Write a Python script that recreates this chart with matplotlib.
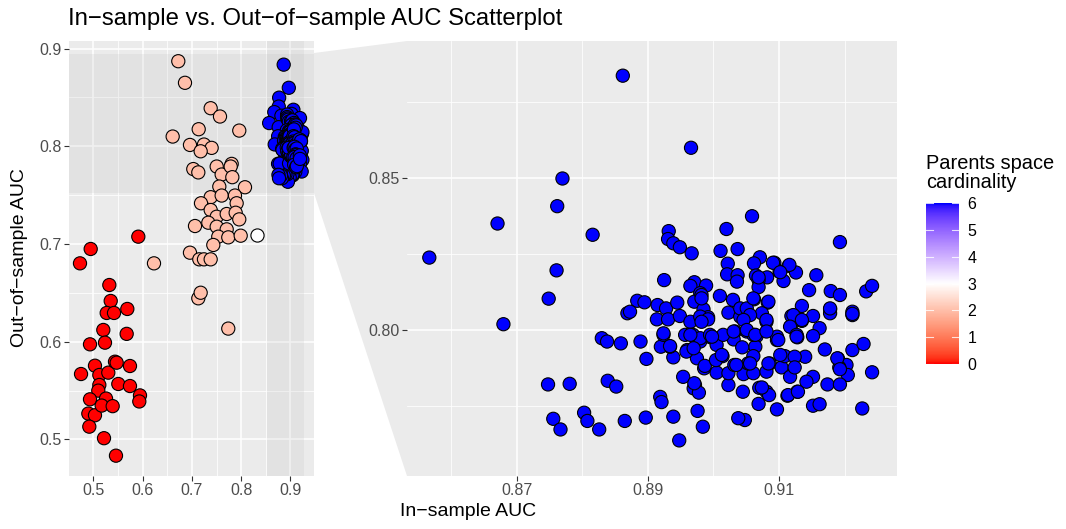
import numpy as np
import matplotlib
matplotlib.use("Agg")
import matplotlib.pyplot as plt
from matplotlib.colors import LinearSegmentedColormap
from matplotlib.patches import Polygon, Rectangle

plt.rcParams['font.family'] = ['Liberation Sans', 'DejaVu Sans']

# ---- data: in-sample AUC (x) vs out-of-sample AUC (y), by parents space cardinality ----
# cardinality 0
in_c0 = [0.5913, 0.4947, 0.4730, 0.5325, 0.5353, 0.5272, 0.5420, 0.5690, 0.5203, 0.5677,
         0.4933, 0.5237, 0.4751, 0.5034, 0.5122, 0.5304, 0.5440, 0.5474, 0.5744, 0.5507,
         0.5744, 0.5122, 0.5101, 0.4933, 0.4899, 0.5034, 0.5258, 0.5170, 0.5393, 0.5947,
         0.5933, 0.4919, 0.5217, 0.5460]
out_c0 = [0.7075, 0.6949, 0.6802, 0.6580, 0.6417, 0.6294, 0.6294, 0.6335, 0.6120, 0.6080,
          0.5973, 0.5990, 0.5669, 0.5754, 0.5659, 0.5683, 0.5795, 0.5785, 0.5751, 0.5567,
          0.5546, 0.5557, 0.5499, 0.5410, 0.5264, 0.5247, 0.5418, 0.5346, 0.5340, 0.5450,
          0.5388, 0.5130, 0.5012, 0.4833]

# cardinality 2
in_c2 = [0.6724, 0.6860, 0.7381, 0.7570, 0.6610, 0.7138, 0.7961, 0.6961, 0.7245, 0.7401,
         0.7178, 0.7028, 0.7130, 0.7503, 0.7604, 0.7807, 0.7787, 0.7820, 0.7556, 0.8077,
         0.7381, 0.7604, 0.7874, 0.7185, 0.7381, 0.7908, 0.7503, 0.7706, 0.7888, 0.7063,
         0.7333, 0.7503, 0.7706, 0.7961, 0.7535, 0.7738, 0.7990, 0.7434, 0.6961, 0.7150,
         0.7245, 0.7381, 0.6231, 0.7130, 0.7178, 0.7738]
out_c2 = [0.8871, 0.8650, 0.8390, 0.8305, 0.8100, 0.8175, 0.8161, 0.8014, 0.8018, 0.7984,
          0.7949, 0.7767, 0.7733, 0.7793, 0.7711, 0.7820, 0.7793, 0.7684, 0.7588, 0.7581,
          0.7479, 0.7496, 0.7496, 0.7417, 0.7348, 0.7417, 0.7279, 0.7307, 0.7320, 0.7184,
          0.7218, 0.7177, 0.7150, 0.7252, 0.7075, 0.7068, 0.7085, 0.6990, 0.6911, 0.6843,
          0.6843, 0.6843, 0.6802, 0.6444, 0.6501, 0.6134]

# cardinality 3
in_c3 = [0.8327]
out_c3 = [0.7092]

# cardinality 6
in_c6 = [0.8862, 0.8966, 0.8770, 0.8762, 0.8671, 0.8816, 0.8567, 0.9059, 0.9020, 0.9193,
         0.8761, 0.8932, 0.8931, 0.8939, 0.8949, 0.8967, 0.9011, 0.9037, 0.9071, 0.9062,
         0.9022, 0.9093, 0.9115, 0.9101, 0.9126, 0.9157, 0.9021, 0.9037, 0.9036, 0.9065,
         0.9082, 0.9107, 0.9069, 0.9069, 0.8925, 0.8971, 0.8965, 0.8989, 0.8980, 0.9146,
         0.9179, 0.9193, 0.9233, 0.9242, 0.8749, 0.8680, 0.8884, 0.8895, 0.8869, 0.8873,
         0.8915, 0.8928, 0.8945, 0.8914, 0.8931, 0.8949, 0.8971, 0.8982, 0.8985, 0.9010,
         0.9030, 0.9062, 0.9083, 0.9135, 0.9178, 0.9178, 0.9212, 0.9212, 0.8965, 0.8992,
         0.9023, 0.9041, 0.9074, 0.9081, 0.9119, 0.9135, 0.9152, 0.9118, 0.9162, 0.9152,
         0.9128, 0.9097, 0.9066, 0.9064, 0.9033, 0.9031, 0.9044, 0.8996, 0.8980, 0.8969,
         0.9005, 0.9014, 0.9061, 0.9086, 0.9104, 0.9109, 0.9140, 0.9170, 0.9190, 0.9203,
         0.9192, 0.9205, 0.9212, 0.9229, 0.9242, 0.9174, 0.9193, 0.9152, 0.9142, 0.9117,
         0.9128, 0.9113, 0.9152, 0.9162, 0.9227, 0.9097, 0.9069, 0.9081, 0.9070, 0.9085,
         0.9045, 0.9023, 0.9005, 0.9023, 0.9046, 0.9061, 0.9081, 0.9053, 0.9032, 0.9048,
         0.9038, 0.8986, 0.8975, 0.8960, 0.8939, 0.8934, 0.8920, 0.8924, 0.8898, 0.8889,
         0.8859, 0.8830, 0.8838, 0.8954, 0.8972, 0.8970, 0.8978, 0.8976, 0.8984, 0.8948,
         0.8939, 0.8919, 0.8921, 0.8897, 0.8865, 0.8839, 0.8852, 0.8826, 0.8803, 0.8808,
         0.8748, 0.8781, 0.8756, 0.8767, 0.8982, 0.9041, 0.9051, 0.8980, 0.8992, 0.8982,
         0.8924, 0.8957, 0.8980, 0.8995, 0.9015, 0.9031, 0.9051, 0.9091, 0.9116, 0.9102,
         0.9069, 0.9061, 0.9084, 0.9122, 0.9056, 0.9046, 0.9081, 0.9135, 0.9117, 0.9127,
         0.9097, 0.9061, 0.9051, 0.9178, 0.9212, 0.8934, 0.8959, 0.8970, 0.8987, 0.8971,
         0.9004, 0.9035, 0.8998, 0.9013, 0.8965, 0.9064, 0.9081, 0.9099, 0.9127, 0.9102,
         0.9124, 0.9056, 0.9084, 0.9124, 0.9074, 0.9114, 0.9129, 0.9189, 0.9193]
out_c6 = [0.8836, 0.8599, 0.8498, 0.8407, 0.8350, 0.8313, 0.8238, 0.8374, 0.8332, 0.8289,
          0.8196, 0.8325, 0.8299, 0.8285, 0.8272, 0.8252, 0.8260, 0.8266, 0.8239, 0.8219,
          0.8218, 0.8221, 0.8211, 0.8192, 0.8189, 0.8180, 0.8183, 0.8180, 0.8159, 0.8179,
          0.8173, 0.8161, 0.8164, 0.8141, 0.8164, 0.8157, 0.8145, 0.8146, 0.8121, 0.8131,
          0.8128, 0.8115, 0.8127, 0.8145, 0.8103, 0.8019, 0.8096, 0.8091, 0.8055, 0.8060,
          0.8082, 0.8071, 0.8090, 0.8035, 0.8035, 0.8046, 0.8093, 0.8115, 0.8068, 0.8112,
          0.8099, 0.8101, 0.8090, 0.8079, 0.8068, 0.8055, 0.8060, 0.8049, 0.8027, 0.8042,
          0.8057, 0.8044, 0.8055, 0.8027, 0.8046, 0.8030, 0.8046, 0.8011, 0.8006, 0.7980,
          0.7976, 0.7967, 0.7980, 0.7945, 0.7995, 0.7969, 0.7943, 0.7976, 0.7962, 0.7984,
          0.7951, 0.7914, 0.7914, 0.7890, 0.7877, 0.7914, 0.7912, 0.7936, 0.7906, 0.7885,
          0.7877, 0.7852, 0.7934, 0.7954, 0.7861, 0.7821, 0.7821, 0.7846, 0.7830, 0.7846,
          0.7797, 0.7784, 0.7751, 0.7756, 0.7742, 0.7739, 0.7757, 0.7797, 0.7810, 0.7786,
          0.7797, 0.7819, 0.7860, 0.7858, 0.7855, 0.7858, 0.7863, 0.7890, 0.7885, 0.7704,
          0.7710, 0.7874, 0.7907, 0.7934, 0.7910, 0.7945, 0.7945, 0.7984, 0.7905, 0.7962,
          0.7956, 0.7973, 0.7962, 0.7846, 0.7819, 0.7808, 0.7794, 0.7734, 0.7682, 0.7637,
          0.7715, 0.7780, 0.7763, 0.7712, 0.7701, 0.7833, 0.7814, 0.7673, 0.7728, 0.7701,
          0.7821, 0.7823, 0.7708, 0.7673, 0.8104, 0.8071, 0.8071, 0.8044, 0.8035, 0.8027,
          0.7989, 0.7984, 0.7973, 0.7984, 0.7984, 0.7995, 0.7995, 0.8221, 0.8214, 0.8190,
          0.8173, 0.8104, 0.8093, 0.8049, 0.8049, 0.8033, 0.8033, 0.8033, 0.8011, 0.7984,
          0.7978, 0.7984, 0.8000, 0.8071, 0.8053, 0.7947, 0.7929, 0.7940, 0.7882, 0.7825,
          0.7901, 0.7885, 0.7978, 0.7918, 0.7984, 0.7984, 0.7995, 0.7967, 0.7978, 0.7918,
          0.7912, 0.7890, 0.7890, 0.7877, 0.7811, 0.7786, 0.7797, 0.7907, 0.7871]

cardinalities = [0, 2, 3, 6]
groups = [(in_c0, out_c0), (in_c2, out_c2), (in_c3, out_c3), (in_c6, out_c6)]

full_xlim = (0.4507, 0.9477)
full_ylim = (0.4625, 0.9078)
zoom_xlim = (0.8533, 0.9280)
zoom_ylim = (0.7520, 0.8950)


# red - white - blue gradient interpolated in Lab space (like scale_fill_gradient2)
def _f(t):
    d = 6 / 29
    return np.where(t > d ** 3, np.cbrt(t), t / (3 * d * d) + 4 / 29)


def _finv(t):
    d = 6 / 29
    return np.where(t > d, t ** 3, 3 * d * d * (t - 4 / 29))


M = np.array([[0.4124, 0.3576, 0.1805], [0.2126, 0.7152, 0.0722], [0.0193, 0.1192, 0.9505]])
WHITE = np.array([0.95047, 1.0, 1.08883])


def to_lab(rgb):
    c = np.asarray(rgb, float)
    lin = np.where(c <= 0.04045, c / 12.92, ((c + 0.055) / 1.055) ** 2.4)
    fx, fy, fz = _f(M @ lin / WHITE)
    return np.array([116 * fy - 16, 500 * (fx - fy), 200 * (fy - fz)])


def from_lab(lab):
    L, a, b = lab
    fy = (L + 16) / 116
    xyz = _finv(np.array([fy + a / 500, fy, fy - b / 200])) * WHITE
    lin = np.linalg.solve(M, xyz)
    c = np.where(lin <= 0.0031308, 12.92 * lin, 1.055 * np.abs(lin) ** (1 / 2.4) - 0.055)
    return np.clip(c, 0, 1)


lab_r, lab_w, lab_b = to_lab([1, 0, 0]), to_lab([1, 1, 1]), to_lab([0, 0, 1])
cols = []
for t in np.linspace(0, 1, 101):
    if t < 0.5:
        cols.append(from_lab(lab_r + (lab_w - lab_r) * t * 2))
    else:
        cols.append(from_lab(lab_w + (lab_b - lab_w) * (t - 0.5) * 2))
cmap = LinearSegmentedColormap.from_list('rwb', cols)

PANEL = '#EBEBEB'
TICKC = '#4D4D4D'

fig = plt.figure(figsize=(10.66, 5.29), dpi=100)


def fbox(x0, y0, x1, y1):
    # pixel box -> figure fraction
    return [x0 / 1066, 1 - y1 / 529, (x1 - x0) / 1066, (y1 - y0) / 529]


# zoom connector (behind the axes)
trap = Polygon([(314 / 1066, 1 - 53 / 529), (314 / 1066, 1 - 193 / 529),
                (407 / 1066, 1 - 476 / 529), (407 / 1066, 1 - 41 / 529)],
               closed=True, transform=fig.transFigure, facecolor=PANEL, edgecolor='none', zorder=-1)
fig.patches.append(trap)

ax1 = fig.add_axes(fbox(69, 41, 314, 476))
ax2 = fig.add_axes(fbox(407, 41, 897, 476))

for ax in (ax1, ax2):
    ax.set_facecolor(PANEL)
    for s in ax.spines.values():
        s.set_visible(False)
    ax.grid(True, which='major', color='white', lw=1.1, zorder=0)
    ax.grid(True, which='minor', color='white', lw=0.55, zorder=0)
    ax.set_axisbelow(True)
    ax.tick_params(which='major', length=3.3, width=0.8, color='#333333', labelcolor=TICKC,
                   labelsize=11.5, pad=2)
    ax.tick_params(which='minor', length=0)
    for i, (xs, ys) in enumerate(groups):
        ax.scatter(xs, ys, c=[cardinalities[i]] * len(xs), cmap=cmap, vmin=0, vmax=6,
                   s=90, edgecolors='black', linewidths=0.8, zorder=3)

ax1.set_xlim(full_xlim)
ax1.set_ylim(full_ylim)
ax1.set_xticks([0.5, 0.6, 0.7, 0.8, 0.9])
ax1.set_xticklabels(['0.5', '0.6', '0.7', '0.8', '0.9'])
ax1.set_xticks([0.55, 0.65, 0.75, 0.85], minor=True)
ax1.set_yticks([0.5, 0.6, 0.7, 0.8, 0.9])
ax1.set_yticklabels(['0.5', '0.6', '0.7', '0.8', '0.9'])
ax1.set_yticks([0.55, 0.65, 0.75, 0.85], minor=True)

# zoom region shading in the full panel
ax1.add_patch(Rectangle((zoom_xlim[0], full_ylim[0]), zoom_xlim[1] - zoom_xlim[0],
                        full_ylim[1] - full_ylim[0], facecolor='#BEBEBE', alpha=0.2,
                        edgecolor='none', zorder=2))
ax1.add_patch(Rectangle((full_xlim[0], zoom_ylim[0]), full_xlim[1] - full_xlim[0],
                        zoom_ylim[1] - zoom_ylim[0], facecolor='#BEBEBE', alpha=0.2,
                        edgecolor='none', zorder=2))

ax2.set_xlim(zoom_xlim)
ax2.set_ylim(zoom_ylim)
ax2.set_xticks([0.87, 0.89, 0.91])
ax2.set_xticklabels(['0.87', '0.89', '0.91'])
ax2.set_xticks([0.86, 0.88, 0.90, 0.92], minor=True)
ax2.set_yticks([0.80, 0.85])
ax2.set_yticklabels(['0.80', '0.85'])
ax2.set_yticks([0.775, 0.825, 0.875], minor=True)

fig.text(68 / 1066, 1 - 25 / 529, 'In\u2212sample vs. Out\u2212of\u2212sample AUC Scatterplot',
         fontsize=17.2, ha='left', va='baseline', color='black')
fig.text(468 / 1066, 1 - 512 / 529, 'In\u2212sample AUC', fontsize=14, ha='center',
         va='center', color='black')
fig.text(20 / 1066, 1 - 258 / 529, 'Out\u2212of\u2212sample AUC', fontsize=14, ha='center',
         va='center', rotation=90, color='black')

# colour bar legend
cax = fig.add_axes(fbox(926, 203, 959, 364))
grad = np.linspace(0, 6, 300).reshape(-1, 1)
cax.imshow(grad, cmap=cmap, vmin=0, vmax=6, aspect='auto', origin='lower', extent=[0, 1, 0, 6])
cax.set_xlim(0, 1)
cax.set_ylim(0, 6)
for s in cax.spines.values():
    s.set_visible(False)
cax.set_xticks([])
cax.yaxis.tick_right()
cax.set_yticks(range(7))
cax.tick_params(axis='y', length=0, labelsize=11.5, labelcolor='black', pad=6)
for v in range(7):
    cax.plot([0, 0.2], [v, v], color='white', lw=0.8, alpha=0.8)
    cax.plot([0.8, 1], [v, v], color='white', lw=0.8, alpha=0.8)
fig.text(926 / 1066, 1 - 154 / 529, 'Parents space\ncardinality', fontsize=14.4,
         ha='left', va='top', color='black', linespacing=1.0)

fig.savefig('out.png', dpi=100)
